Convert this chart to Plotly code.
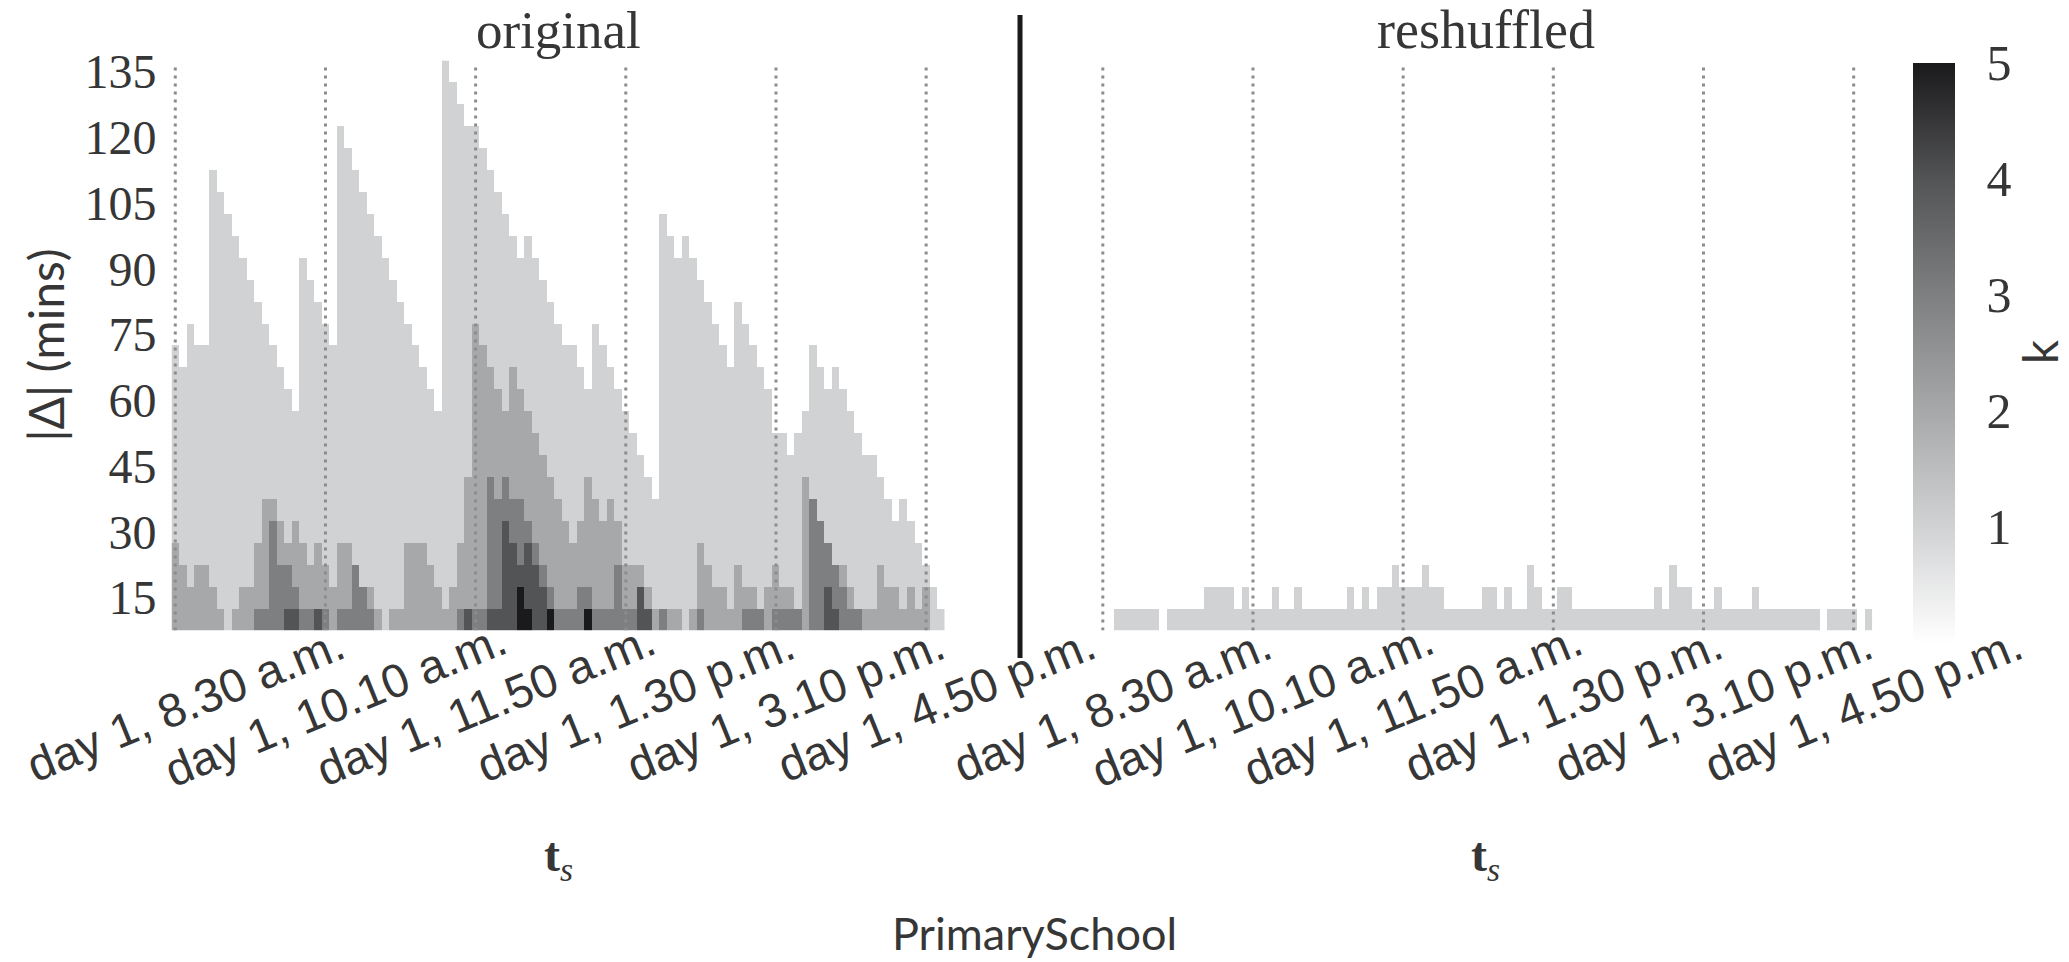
import numpy as np
import plotly.graph_objects as go

# ---------------- data ----------------
# time bins: minutes after day 1, 8.30 a.m., 5-minute steps
times = list(range(0, 515, 5))
# |Delta| rows (mins)
deltas = list(range(10, 140, 5))

# "original": number of rows (from bottom) reaching at least k = 1..5, per time bin
orig_k1 = [13,12,14,13,13,21,20,19,18,17, 16,15,14,13,12,11,10,17,16,15,
           14,13,23,22,21,20,19,18,17,16, 15,14,13,12,11,10,26,25,24,23,
           23,22,21,20,19,18,17,18,17,16, 15,14,13,13,12,11,14,13,12,11,
           10,9,8,7,6,19,18,17,18,17, 16,15,14,13,12,15,14,13,12,11,
           9,9,8,9,10,13,12,11,12,11, 10,9,8,8,7,6,5,6,5,4,
           3,2,1]
orig_k2 = [4,3,2,3,3,2,1,0,1,2, 2,4,6,6,5,4,5,4,3,4,
           3,2,4,4,3,2,2,1,0,1, 1,4,4,4,3,2,1,2,4,7,
           14,13,12,11,10,12,11,10,9,8, 7,6,5,4,5,7,6,5,6,5,
           3,3,3,2,1,1,1,1,0,1, 4,3,2,2,1,3,2,2,1,2,
           3,2,2,1,7,6,5,4,3,3, 2,1,1,1,3,2,2,1,2,1,
           2,0,0]
orig_k3 = [0,0,0,0,0,0,0,0,0,0, 0,1,1,5,3,3,2,1,1,1,
           1,0,1,1,3,2,1,0,0,0, 0,0,0,0,0,0,0,0,1,1,
           1,1,7,6,7,6,6,5,4,3, 2,1,1,1,2,2,1,1,1,3,
           1,1,2,1,0,1,0,0,0,0, 1,0,0,0,0,0,1,1,1,0,
           1,1,1,1,0,6,5,4,3,2, 1,1,0,0,0,0,0,0,0,0,
           0,0,0]
orig_k4 = [0,0,0,0,0,0,0,0,0,0, 0,0,0,0,0,1,1,0,0,1,
           0,0,0,0,0,0,0,0,0,0, 0,0,0,0,0,0,0,0,0,1,
           0,0,1,1,5,4,3,4,3,2, 1,0,0,0,0,1,0,0,0,0,
           0,0,2,1,0,0,0,0,0,0, 0,0,0,0,0,0,0,0,0,0,
           0,0,0,0,0,0,0,2,1,0, 0,0,0,0,0,0,0,0,0,0,
           0,0,0]
orig_k5 = [0,0,0,0,0,0,0,0,0,0, 0,0,0,0,0,0,0,0,0,0,
           0,0,0,0,0,0,0,0,0,0, 0,0,0,0,0,0,0,0,0,0,
           0,0,0,0,0,0,2,1,0,0, 1,0,0,0,0,1,0,0,0,0,
           0,0,0,0,0,0,0,0,0,0, 0,0,0,0,0,0,0,0,0,0,
           0,0,0,0,0,0,0,0,0,0, 0,0,0,0,0,0,0,0,0,0,
           0,0,0]
# "reshuffled": rows with k = 1, per time bin
resh_k1 = [0,0,1,1,1,1,1,1,0,1, 1,1,1,1,2,2,2,2,1,2,
           1,1,1,2,1,1,2,1,1,1, 1,1,1,2,1,2,1,2,2,3,
           2,2,2,3,2,2,1,1,1,1, 1,2,2,1,2,1,1,3,2,1,
           1,2,2,1,1,1,1,1,1,1, 1,1,1,1,2,1,3,2,2,1,
           1,1,2,1,1,1,1,2,1,1, 1,1,1,1,1,1,0,1,1,1,
           1,0,1]

tick_vals = [0, 100, 200, 300, 400, 500]
tick_text = ["day 1, 8.30 a.m.", "day 1, 10.10 a.m.", "day 1, 11.50 a.m.",
             "day 1, 1.30 p.m.", "day 1, 3.10 p.m.", "day 1, 4.50 p.m."]
y_ticks = [15, 30, 45, 60, 75, 90, 105, 120, 135]

# ---------------- build matrices ----------------
levels = np.array([orig_k1, orig_k2, orig_k3, orig_k4, orig_k5])
rows = np.arange(len(deltas))[:, None]
z_orig = (levels[:, None, :] > rows[None, :, :]).sum(axis=0).astype(float)
z_orig[z_orig == 0] = np.nan
z_resh = (np.array(resh_k1)[None, :] > rows).astype(float)
z_resh[z_resh == 0] = np.nan

cs = [[0.0, "#ffffff"], [0.2, "#d1d2d4"], [0.4, "#a7a8aa"],
      [0.6, "#7e7f81"], [0.8, "#535456"], [1.0, "#1a1a1c"]]

TXT = "#363636"
SERIF = "Liberation Serif, DejaVu Serif, serif"
SANS = "Lato, Open Sans, sans-serif"
TICKF = "Liberation Sans, Arial, sans-serif"

fig = go.Figure()
fig.add_trace(go.Heatmap(
    x=times, y=deltas, z=z_orig, xaxis="x", yaxis="y",
    colorscale=cs, zmin=0, zmax=5, hoverongaps=False,
    colorbar=dict(x=0.9246, xanchor="left", y=0.6435, yanchor="middle",
                  len=0.612, lenmode="fraction", thickness=42, xpad=0, ypad=0,
                  outlinewidth=0, ticks="outside", ticklen=22,
                  tickcolor="rgba(0,0,0,0)", tickvals=[1, 2, 3, 4, 5],
                  tickfont=dict(family=SERIF, size=50, color=TXT))))
fig.add_trace(go.Heatmap(
    x=times, y=deltas, z=z_resh, xaxis="x2", yaxis="y2",
    colorscale=cs, zmin=0, zmax=5, showscale=False, hoverongaps=False))

xd1 = [0.0829, 0.4567]
xd2 = [0.5312, 0.9050]
yd = [0.350, 0.952]
common_x = dict(range=[-2.5, 512.5], showgrid=False, zeroline=False,
                showline=False, showticklabels=False, ticks="", tickvals=tick_vals)
fig.update_layout(
    width=2069, height=962, margin=dict(l=0, r=0, t=0, b=0),
    paper_bgcolor="white", plot_bgcolor="white",
    xaxis=dict(domain=xd1, anchor="y", **common_x),
    xaxis2=dict(domain=xd2, anchor="y2", **common_x),
    yaxis=dict(domain=yd, anchor="x", range=[7.5, 137.5], tickvals=y_ticks,
               showgrid=False, zeroline=False, showline=False, ticks="",
               ticklabelstandoff=14,
               tickfont=dict(family=SERIF, size=48, color=TXT)),
    yaxis2=dict(domain=yd, anchor="x2", range=[7.5, 137.5], tickvals=y_ticks,
                showgrid=False, zeroline=False, showline=False, ticks="",
                showticklabels=False),
)

shapes = []
for xr in ("x", "x2"):
    for tv in tick_vals:
        shapes.append(dict(type="line", xref=xr, yref="y", x0=tv, x1=tv,
                           y0=7.5, y1=136.5, layer="above",
                           line=dict(color="#8c8c8c", width=3, dash="3px,5px")))
shapes.append(dict(type="line", xref="paper", yref="paper", x0=0.493, x1=0.493,
                   y0=0.321, y1=1.0, line=dict(color="#1a1a1a", width=5)))
fig.update_layout(shapes=shapes)

ann = []
for xr in ("x", "x2"):
    for tv, tt in zip(tick_vals, tick_text):
        ann.append(dict(x=tv, xref=xr, y=0.2715, yref="paper", text=tt,
                        showarrow=False, textangle=-22, xanchor="center",
                        yanchor="middle", xshift=10,
                        font=dict(family=TICKF, size=47, color=TXT)))
for xd, title, fs in ((xd1, "original", 53), (xd2, "reshuffled", 54)):
    cx = (xd[0] + xd[1]) / 2
    ann.append(dict(x=cx, xref="paper", y=0.984, yref="paper", text=title,
                    showarrow=False, xanchor="center", yanchor="middle",
                    font=dict(family=SERIF, size=fs, color=TXT)))
    ann.append(dict(x=cx, xref="paper", y=0.110, yref="paper",
                    text="<b>t</b><sub><i>s</i></sub>",
                    showarrow=False, xanchor="center", yanchor="middle",
                    font=dict(family=SERIF, size=48, color=TXT)))
ann.append(dict(x=0.0222, xref="paper", y=0.652, yref="paper",
                text="|Δ| (mins)", textangle=-90, showarrow=False,
                xanchor="center", yanchor="middle",
                font=dict(family=SANS, size=48, color=TXT)))
ann.append(dict(x=0.9855, xref="paper", y=0.645, yref="paper", text="k",
                textangle=-90, showarrow=False, xanchor="center", yanchor="middle",
                font=dict(family=SANS, size=48, color=TXT)))
ann.append(dict(x=0.5, xref="paper", y=0.0, yref="paper", text="PrimarySchool",
                showarrow=False, xanchor="center", yanchor="bottom",
                font=dict(family=SANS, size=45, color=TXT)))
fig.update_layout(annotations=ann)

fig.write_html("out.html")
